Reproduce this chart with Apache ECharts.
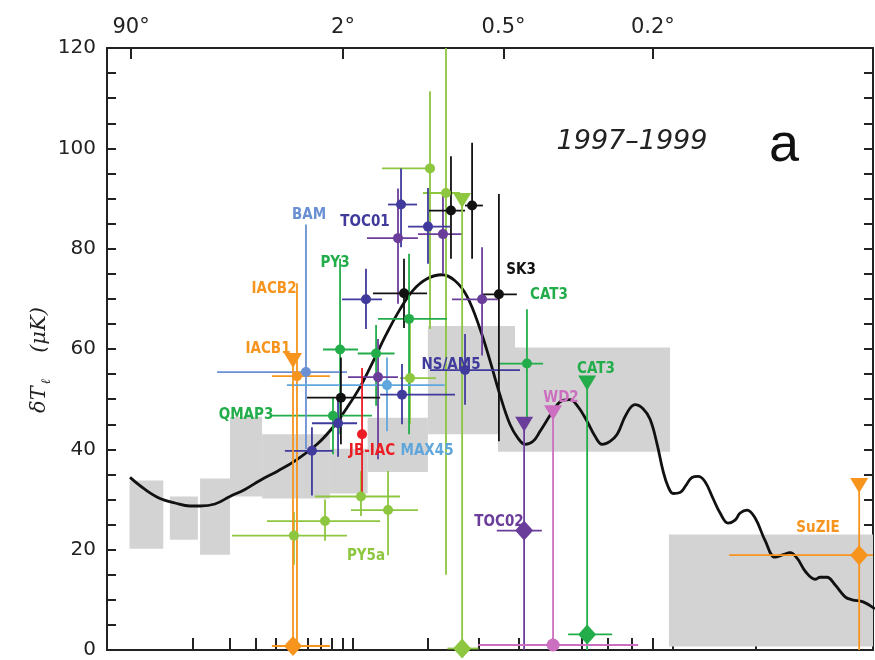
<!DOCTYPE html>
<html>
<head>
<meta charset="utf-8">
<script src="https://cdn.jsdelivr.net/npm/echarts@6/dist/echarts.min.js"></script>
<style>
  html, body { margin: 0; padding: 0; background: #fff; }
  #chart { width: 875px; height: 660px; }
</style>
</head>
<body>
<div id="chart"></div>
<script>
// Multipole axis: positions follow l^0.3
const POW = 0.3;
const L_MIN = 0.794, L_MAX = 2474;
const toX = l => Math.pow(l, POW);

// angular scale ticks along the top edge (multipole, label)
const topTickL = [2, 90, 360, 900];
const topTickText = ['90°', '2°', '0.5°', '0.2°'];
// minor multipole ticks along the bottom edge
const bottomTickL = [10, 20, 30, 40, 50, 60, 70, 80, 90, 100, 200, 300, 400, 500, 600, 700, 800, 900, 1000, 1500];

// grey band-power boxes: [l_lo, l_hi, dT_lo, dT_hi]
const grayBands = [
  [1.9, 5.1, 20.2, 33.8],
  [6.0, 11.1, 22.0, 30.6],
  [11.6, 20.0, 19.0, 34.2],
  [20.0, 33.0, 30.6, 46.5],
  [33.0, 78.0, 30.2, 43.0],
  [78.0, 116, 31.2, 40.1],
  [116, 201, 35.5, 46.3],
  [201, 390, 43.0, 64.6],
  [346, 986, 39.5, 60.3],
  [980, 2700, 0.7, 23.0]
];

// model power spectrum
const curveL = [1.93, 3.10, 4.69, 6.78, 9.44, 11.6, 15.4, 20.0, 25.5, 32.0, 41.2, 51.5, 67.3, 80.7, 93.9,
  107.4, 122.3, 139.8, 157.6, 177.0, 199.6, 225.9, 250.7, 275.2, 303.6, 326.6, 350.7, 376.5, 398.3, 417.5,
  440.7, 461.5, 508.5, 531.6, 558.6, 586.6, 619.6, 650.0, 677.5, 709.3, 739.0, 776.9, 816.7, 853.5, 886.7,
  920.9, 950.1, 975.5, 1001.8, 1038, 1070, 1103, 1137, 1177, 1225, 1268, 1317, 1362, 1395, 1441,
  1496, 1566, 1637, 1698, 1751, 1805, 1876, 1951, 1993, 2051, 2121, 2211, 2276, 2379, 2493];
const curveT = [34.4, 32.0, 30.2, 29.3, 28.7, 28.7, 29.1, 30.6, 32.0, 33.8, 35.7, 37.7, 41.0, 44.4, 48.3,
  52.4, 57.5, 63.2, 67.9, 71.7, 74.0, 74.8, 73.6, 70.5, 64.0, 57.7, 50.9, 45.0, 42.2, 41.0,
  41.6, 43.6, 48.3, 49.7, 49.9, 48.5, 45.6, 42.6, 41.0, 41.6, 43.0, 46.9, 48.9, 48.1, 46.0,
  41.0, 35.7, 32.6, 31.2, 31.4, 32.8, 34.4, 34.6, 33.6, 30.2, 27.3, 25.3, 25.9, 27.3, 27.9,
  26.3, 21.8, 18.5, 19.0, 19.4, 18.3, 15.5, 14.1, 14.5, 14.5, 13.0, 10.6, 10.0, 9.6, 8.2];

// detections: [l, dT, l_lo, l_hi, dT_lo, dT_hi]
const iacbPts = [[52.8, 54.6, 37.9, 78.0, 0, 73.1]];
const bamPts = [[59.0, 55.4, 16.0, 93.9, 40.0, 84.8]];
const max45Pts = [[139.8, 52.8, 46.4, 231, 43.6, 58.3]];
const toco97Pts = [
  [63.4, 39.7, 45.2, 80.7, 30.8, 44.4],
  [85.3, 45.2, 63.4, 104.3, 38.5, 50.9],
  [114.1, 69.9, 89.1, 133.4, 64.0, 76.0],
  [159.1, 88.8, 141.2, 183.2, 80.3, 96.0],
  [201.2, 84.4, 169.4, 240.9, 77.0, 92.1]
];
const msamPts = [
  [160.5, 50.9, 131, 250.7, 45.0, 57.0],
  [271, 55.8, 204.6, 403.4, 48.9, 63.0]
];
const toco98Pts = [
  [128.4, 54.4, 94.9, 154.8, 38.0, 62.0],
  [154.8, 82.1, 115.2, 184.7, 69.0, 92.0],
  [227.7, 82.9, 184.7, 264.8, 75.0, 91.5],
  [308.2, 69.9, 244.7, 345.8, 58.7, 80.3]
];
const sk3Pts = [
  [88.0, 50.3, 59.7, 131.0, 41.0, 58.3],
  [163.4, 71.1, 122.3, 199.6, 64.2, 78.0],
  [242.8, 87.6, 202.9, 271.0, 78.0, 98.4],
  [286.0, 88.6, 271.0, 310.0, 78.0, 101.1],
  [348.3, 70.9, 310.0, 395.0, 41.6, 90.9]
];
const qmapPy3CatPts = [
  [80.7, 46.7, 37.9, 121.0, 39.0, 50.3],
  [87.2, 59.9, 72.1, 105.3, 43.0, 78.0],
  [126.0, 59.1, 105.0, 150.0, 48.7, 64.8],
  [170.9, 66.0, 128.4, 235.2, 43.0, 79.0],
  [423.0, 57.1, 345.8, 470.8, 45.0, 67.9]
];
const py5Pts = [
  [50.8, 22.8, 20.7, 93.9, 17.0, 27.5],
  [73.8, 25.7, 35.4, 131.0, 21.8, 30.0],
  [108.5, 30.6, 65.7, 157.6, 26.7, 35.7],
  [141.2, 27.9, 97.9, 184.7, 18.9, 35.7],
  [172.3, 54.2, 157.6, 215.0, 45.0, 66.6],
  [204.6, 96.0, 133.4, 213.3, 64.0, 111.4],
  [233.3, 91.1, 192.9, 260.6, 15.0, 130.0]
];
const jbiacPts = [[109.7, 43.0, 109.7, 109.7, 31.2, 56.2]];

// upper limits: [l, limit, detection, l_lo, l_hi]
const iacbLimits = [[50.2, 57.7, 0.8, 37.9, 78.0], [2341, 32.8, 18.9, 1324, 2700]];
const toco98Limits = [[415, 45.0, 23.8, 343, 467]];
const catLimits = [[620, 53.2, 3.1, 552, 718]];
const pyLimits = [[265, 89.6, 0.3, 236, 300]];
const wdLimits = [[502, 47.3, 1.0, 299, 831]];

const C = {
  orange: '#f7941d', blue: '#6a8fd3', lightBlue: '#5fa6dc', indigo: '#3f3a9c',
  purple: '#6a3d9b', black: '#111111', green: '#22ad4a', lime: '#8dc63f',
  red: '#ec1c24', pink: '#cc6fc0', gray: '#d3d3d3'
};

function errorBars(rows, color) {
  return {
    type: 'custom', clip: true, z: 3, silent: true,
    data: rows.map(r => [toX(r[0]), r[1], toX(r[2]), toX(r[3]), r[4], r[5]]),
    renderItem(params, api) {
      const a = api.coord([api.value(2), api.value(1)]);
      const b = api.coord([api.value(3), api.value(1)]);
      const lo = api.coord([api.value(0), api.value(4)]);
      const hi = api.coord([api.value(0), api.value(5)]);
      const st = { stroke: color, lineWidth: 1.8 };
      return { type: 'group', children: [
        { type: 'line', shape: { x1: a[0], y1: a[1], x2: b[0], y2: b[1] }, style: st },
        { type: 'line', shape: { x1: lo[0], y1: lo[1], x2: hi[0], y2: hi[1] }, style: st }
      ] };
    }
  };
}

function dots(rows, color, symbol, size, col, rotate) {
  return {
    type: 'scatter', z: 4, silent: true, symbol: symbol, symbolSize: size,
    symbolRotate: rotate || 0,
    itemStyle: { color: color, opacity: 1 },
    data: rows.map(r => [toX(r[0]), r[col]])
  };
}

function limitBars(rows, color) {
  return {
    type: 'custom', clip: true, z: 3, silent: true,
    data: rows.map(r => [toX(r[0]), r[1], r[2], toX(r[3]), toX(r[4])]),
    renderItem(params, api) {
      const top = api.coord([api.value(0), api.value(1)]);
      const bot = api.coord([api.value(0), 0]);
      const a = api.coord([api.value(3), api.value(2)]);
      const b = api.coord([api.value(4), api.value(2)]);
      const st = { stroke: color, lineWidth: 1.8 };
      return { type: 'group', children: [
        { type: 'line', shape: { x1: top[0], y1: top[1], x2: bot[0], y2: bot[1] }, style: st },
        { type: 'line', shape: { x1: a[0], y1: a[1], x2: b[0], y2: b[1] }, style: st }
      ] };
    }
  };
}

function limitSet(rows, color, detSymbol) {
  return [
    limitBars(rows, color),
    dots(rows, color, 'triangle', [18, 15], 1, 180),
    dots(rows, color, detSymbol, detSymbol === 'diamond' ? [18, 20] : 13, 2)
  ];
}

function pointSet(rows, color) {
  return [errorBars(rows, color), dots(rows, color, 'circle', 10, 1)];
}

const bandSeries = {
  type: 'custom', clip: true, z: 1, silent: true,
  data: grayBands.map(b => [toX(b[0]), toX(b[1]), b[2], b[3]]),
  renderItem(params, api) {
    const p0 = api.coord([api.value(0), api.value(3)]);
    const p1 = api.coord([api.value(1), api.value(2)]);
    return { type: 'rect', shape: { x: p0[0], y: p0[1], width: p1[0] - p0[0], height: p1[1] - p0[1] },
      style: { fill: C.gray } };
  }
};

const curveSeries = {
  type: 'line', z: 2, silent: true, smooth: 0.4, symbol: 'none',
  lineStyle: { color: '#111', width: 2.8 },
  data: curveL.map((l, i) => [toX(l), curveT[i]])
};

const axisFont = { fontFamily: '"DejaVu Sans", sans-serif', fontSize: 20, color: '#222' };
const lineSt = { color: '#222', width: 2 };

const labels = [
  ['BAM', 309, 215, C.blue],
  ['TOC01', 365, 222, C.indigo],
  ['PY3', 335, 263, C.green],
  ['IACB2', 274, 289, C.orange],
  ['IACB1', 268, 349, C.orange],
  ['QMAP3', 246, 415, C.green],
  ['JB-IAC', 372, 451, C.red],
  ['MAX45', 427, 451, C.lightBlue],
  ['NS/AM5', 451, 365, C.indigo],
  ['SK3', 521, 270, C.black],
  ['CAT3', 549, 295, C.green],
  ['CAT3', 596, 369, C.green],
  ['WD2', 561, 398, C.pink],
  ['TOC02', 499, 522, C.purple],
  ['PY5a', 366, 556, C.lime],
  ['SuZIE', 818, 528, C.orange]
];

const graphics = labels.map(([t, x, y, c]) => ({
  type: 'text', x: x, y: y, z: 10, silent: true,
  style: { text: t, fill: c, font: 'bold 15px "Liberation Sans Narrow", "DejaVu Sans Condensed", sans-serif',
    align: 'center', verticalAlign: 'middle' }
}));
graphics.push(
  { type: 'text', x: 632, y: 142, z: 10, silent: true,
    style: { text: '1997–1999', fill: '#222', font: 'oblique 27px "DejaVu Sans", sans-serif',
      align: 'center', verticalAlign: 'middle' } },
  { type: 'text', x: 784, y: 146, z: 10, silent: true,
    style: { text: 'a', fill: '#111', font: '54px "Liberation Sans", Arial, sans-serif',
      align: 'center', verticalAlign: 'middle' } },
  { type: 'text', x: 40, y: 360, z: 10, silent: true, rotation: Math.PI / 2,
    style: { text: '{m|δT}{s|ℓ}{g|}{m|(μK)}', fill: '#222', align: 'center', verticalAlign: 'middle',
      rich: {
        m: { font: 'italic 21px "DejaVu Serif", serif', fill: '#222' },
        s: { font: 'italic 13px "DejaVu Serif", serif', fill: '#222', padding: [14, 0, 0, 2] },
        g: { width: 26 }
      } } }
);

const chart = echarts.init(document.getElementById('chart'), null, { renderer: 'canvas' });
chart.setOption({
  animation: false,
  backgroundColor: '#fff',
  grid: { left: 107, right: 2, top: 48, bottom: 1 },
  xAxis: [
    { type: 'value', position: 'bottom', min: toX(L_MIN), max: toX(L_MAX),
      axisLine: { show: true, onZero: false, lineStyle: lineSt },
      axisTick: { show: true, inside: true, length: 12, lineStyle: lineSt, customValues: bottomTickL.map(toX) },
      axisLabel: { show: false }, splitLine: { show: false } },
    { type: 'value', position: 'top', min: toX(L_MIN), max: toX(L_MAX),
      axisLine: { show: true, onZero: false, lineStyle: lineSt },
      axisTick: { show: true, inside: true, length: 11, lineStyle: lineSt, customValues: topTickL.map(toX) },
      axisLabel: { show: true, margin: 10, ...axisFont, fontSize: 21, customValues: topTickL.map(toX),
        formatter: v => { const i = topTickL.findIndex(l => Math.abs(toX(l) - v) < 1e-6); return i >= 0 ? topTickText[i] : ''; } },
      splitLine: { show: false } }
  ],
  yAxis: [
    { type: 'value', position: 'left', min: 0, max: 120, interval: 20,
      axisLine: { show: true, onZero: false, lineStyle: lineSt },
      axisTick: { show: true, inside: true, length: 9, lineStyle: lineSt },
      minorTick: { show: true, splitNumber: 4, length: 9, lineStyle: lineSt },
      axisLabel: { margin: 11, ...axisFont, padding: [5, 0, 0, 0] }, splitLine: { show: false } },
    { type: 'value', position: 'right', min: 0, max: 120, interval: 20,
      axisLine: { show: true, onZero: false, lineStyle: lineSt },
      axisTick: { show: true, inside: true, length: 9, lineStyle: lineSt },
      minorTick: { show: true, splitNumber: 4, length: 9, lineStyle: lineSt },
      axisLabel: { show: false }, splitLine: { show: false } }
  ],
  graphic: graphics,
  series: [
    bandSeries,
    curveSeries,
    ...pointSet(py5Pts, C.lime),
    ...pointSet(qmapPy3CatPts, C.green),
    ...pointSet(iacbPts, C.orange),
    ...pointSet(bamPts, C.blue),
    ...pointSet(max45Pts, C.lightBlue),
    ...pointSet(toco98Pts, C.purple),
    ...pointSet(toco97Pts, C.indigo),
    ...pointSet(msamPts, C.indigo),
    ...pointSet(sk3Pts, C.black),
    ...pointSet(jbiacPts, C.red),
    ...limitSet(iacbLimits, C.orange, 'diamond'),
    ...limitSet(toco98Limits, C.purple, 'diamond'),
    ...limitSet(catLimits, C.green, 'diamond'),
    ...limitSet(pyLimits, C.lime, 'diamond'),
    ...limitSet(wdLimits, C.pink, 'circle')
  ]
});
</script>
</body>
</html>
